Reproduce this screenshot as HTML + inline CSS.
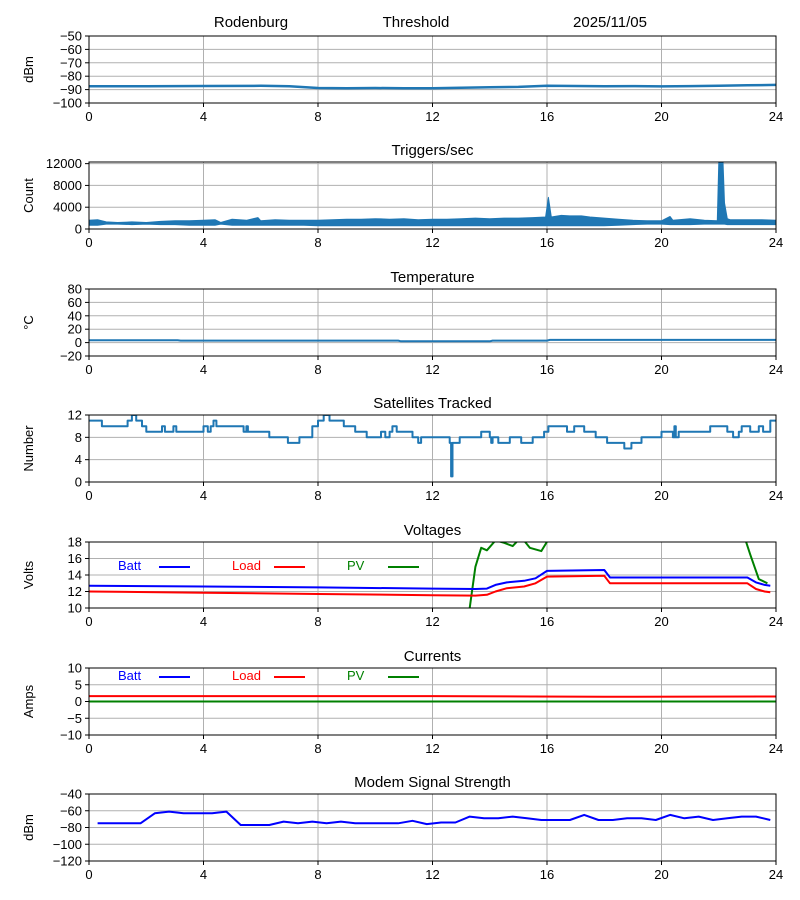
<!DOCTYPE html>
<html><head><meta charset="utf-8"><style>
html,body{margin:0;padding:0;background:#fff;}
svg{display:block;font-family:"Liberation Sans","DejaVu Sans",sans-serif;}
</style></head><body>
<svg id="fig" width="800" height="900" viewBox="0 0 800 900"></svg>
<script>
// ---- data ----
const xTicks=[0,4,8,12,16,20,24];
const threshHours=[0,2,4,6,7,8,9,10,11,12,13,14,15,16,17,18,19,20,21,22,23,24];
const threshVals=[-87.5,-87.5,-87.3,-87.2,-87.5,-88.8,-89,-88.8,-89,-89,-88.6,-88.3,-88,-87.2,-87.3,-87.5,-87.4,-87.6,-87.4,-87.2,-86.8,-86.5];
const trigHours=[0,0.3,0.6,1,1.5,2,2.5,3,3.5,4,4.4,4.6,5,5.5,5.9,6,6.5,7,7.5,8,8.5,9,9.5,10,10.5,11,11.5,12,12.5,13,13.5,14,14.5,15,15.5,15.95,16.05,16.15,16.5,16.8,17.2,17.5,18,18.5,19,19.5,20,20.3,20.4,21,21.5,21.95,22.0,22.15,22.2,22.3,22.4,23,23.5,24];
const trigHigh=[1600,1700,1300,1200,1300,1200,1400,1500,1500,1600,1700,1200,1800,1600,2100,1500,1700,1600,1600,1600,1700,1800,1800,1900,1800,1900,1700,1800,1800,1900,2000,1900,2000,2000,2100,2200,5800,2200,2500,2400,2400,2200,2000,1800,1600,1500,1500,2300,1600,1900,1600,1500,12300,12300,4800,1900,1700,1700,1700,1600];
const trigLow=[700,700,900,900,800,900,800,800,700,700,700,900,700,700,700,700,700,700,700,600,600,600,600,600,600,600,600,600,600,600,600,600,600,600,600,600,600,600,600,600,600,600,600,700,800,900,900,800,800,800,900,900,900,900,900,800,800,800,800,800];
const tempHours=[0,3.1,3.2,10.8,10.9,14,14.1,16,16.1,24];
const tempVals=[3.5,3.5,3,3,2,2,3,3,4,4];
const satHours=[0,0.45,1.35,1.5,1.65,1.85,2.0,2.55,2.65,2.95,3.05,4.0,4.15,4.25,4.35,4.45,5.4,5.5,5.55,6.3,6.95,7.35,7.8,8.0,8.2,8.4,8.9,9.3,9.7,10.2,10.35,10.5,10.6,10.75,11.3,11.5,11.6,12.6,12.65,12.7,12.95,13.7,14.0,14.05,14.1,14.3,14.7,15.1,15.5,15.9,16.05,16.7,16.95,17.3,17.7,18.1,18.7,18.95,19.3,20.0,20.4,20.45,20.5,20.6,21.7,22.3,22.5,22.7,22.8,23.1,23.4,23.55,23.8,24];
const satVals=[11,10,11,12,11,10,9,10,9,10,9,10,9,10,11,10,9,10,9,8,7,8,10,11,12,11,10,9,8,9,8,9,10,9,8,7,8,7,1,7,8,9,8,7,8,7,8,7,8,9,10,9,10,9,8,7,6,7,8,9,8,10,8,9,10,9,8,9,10,9,10,9,11,11];
const vHours=[0,4,8,12,13.5,13.9,14.2,14.6,15.2,15.6,16,18,18.2,21,23,23.3,23.6,23.8];
const battVals=[12.7,12.6,12.5,12.35,12.3,12.35,12.8,13.1,13.3,13.6,14.5,14.6,13.7,13.7,13.7,13.1,12.8,12.7];
const loadVals=[12.0,11.85,11.7,11.55,11.5,11.6,12.0,12.4,12.6,13.0,13.8,13.9,13.0,13.0,13.0,12.3,12.0,11.9];
const pvHours=[13.3,13.5,13.7,13.9,14.2,14.5,14.8,15.1,15.4,15.8,16.1,22.9,23.1,23.4,23.7];
const pvVals=[10,15,17.3,17,18.2,17.9,17.5,18.6,17.3,16.9,18.6,18.6,16.5,13.5,13];
const iHours=[0,12,15.5,18,24];
const iLoad=[1.6,1.6,1.5,1.4,1.5];
const iBatt=[0,0,0,0,0];
const iPV=[0,0,0,0,0];
const modemHours=[0.3,1.8,2.3,2.8,3.3,4.3,4.8,5.3,6.3,6.8,7.3,7.8,8.3,8.8,9.3,10.8,11.3,11.8,12.3,12.8,13.3,13.8,14.3,14.8,15.3,15.8,16.8,17.3,17.8,18.3,18.8,19.3,19.8,20.3,20.8,21.3,21.8,22.3,22.8,23.3,23.8];
const modemVals=[-75,-75,-63,-61,-63,-63,-61,-77,-77,-73,-75,-73,-75,-73,-75,-75,-72,-76,-74,-74,-67,-69,-69,-67,-69,-71,-71,-65,-71,-71,-69,-69,-71,-65,-69,-67,-71,-69,-67,-67,-71];

const NS='http://www.w3.org/2000/svg';
const svg=document.getElementById('fig');
const X0=89,X1=776;
function sx(h){return X0+(h/24)*(X1-X0);}
function fmt(v){return v<0?'\u2212'+Math.abs(v):String(v);}
function mk(tag,attrs,parent,text){const e=document.createElementNS(NS,tag);for(const k in attrs)e.setAttribute(k,attrs[k]);if(text!==undefined)e.textContent=text;(parent||svg).appendChild(e);return e;}

function panel(name,top,bot,ymin,ymax,yTicks,title,ylabel){
  const g=mk('g',{});
  
  
  const sy=v=>bot-(v-ymin)/(ymax-ymin)*(bot-top);
  xTicks.forEach(t=>{const l=mk('line',{x1:sx(t),x2:sx(t),y1:top,y2:bot,stroke:'#b0b0b0','stroke-width':1},g);
    });
  yTicks.forEach(t=>{const l=mk('line',{x1:X0,x2:X1,y1:sy(t),y2:sy(t),stroke:'#b0b0b0','stroke-width':1},g);
    });
  const clipId='c'+name;
  const cp=mk('clipPath',{id:clipId},g);mk('rect',{x:X0,y:top,width:X1-X0,height:bot-top},cp);
  const plot=mk('g',{'clip-path':'url(#'+clipId+')'},g);
  xTicks.forEach(t=>{mk('line',{x1:sx(t),x2:sx(t),y1:bot,y2:bot+4,stroke:'#000'},g);
    const tx=mk('text',{x:sx(t),y:bot+18,'text-anchor':'middle','font-size':13},g,String(t));
    });
  yTicks.forEach(t=>{mk('line',{x1:X0-4,x2:X0,y1:sy(t),y2:sy(t),stroke:'#000'},g);
    const tx=mk('text',{x:X0-7,y:sy(t)+4.5,'text-anchor':'end','font-size':13},g,fmt(t));
    });
  const fr=mk('rect',{x:X0,y:top,width:X1-X0,height:bot-top,fill:'none',stroke:'#000','stroke-width':1},g);
  
  if(title){const tt=mk('text',{x:(X0+X1)/2,y:top-7,'text-anchor':'middle','font-size':15},g,title);
    }
  const cy=(top+bot)/2;
  const yl=mk('text',{x:0,y:0,transform:'translate(33,'+cy+') rotate(-90)','text-anchor':'middle','font-size':13},g,ylabel);
  
  return {g,plot,sy};
}
function line(p,hs,vs,color,w,nm){
  const pts=hs.map((h,i)=>sx(h).toFixed(1)+','+p.sy(vs[i]).toFixed(1)).join(' ');
  const l=mk('polyline',{points:pts,fill:'none',stroke:color,'stroke-width':w,'stroke-linejoin':'round'},p.plot);
  
  return l;
}
function stepline(p,hs,vs,color,w,nm){
  const H=[],V=[];
  hs.forEach((h,i)=>{if(i>0){H.push(h);V.push(vs[i-1]);}H.push(h);V.push(vs[i]);});
  return line(p,H,V,color,w,nm);
}
function legend(p,y){
  const items=[['Batt','#0000ff',118,159],['Load','#ff0000',232,274],['PV','#008000',347,388]];
  items.forEach(it=>{
    const t=mk('text',{x:it[2],y:y+5,'font-size':13,fill:it[1]},p.g,it[0]);
    
    const l=mk('line',{x1:it[3],x2:it[3]+31,y1:y+2,y2:y+2,stroke:it[1],'stroke-width':2},p.g);
    
  });
}
const C='#1f77b4';

[['Rodenburg',251],['Threshold',416],['2025/11/05',610]].forEach(h=>{
  const t=mk('text',{x:h[1],y:27,'text-anchor':'middle','font-size':15},svg,h[0]);
  
});
// 1 threshold
let p=panel('threshold',36,103,-100,-50,[-100,-90,-80,-70,-60,-50],null,'dBm');
line(p,threshHours,threshVals,C,2.5,'threshold-line');
// 2 triggers: envelope band
p=panel('triggers',162,229,0,12300,[0,4000,8000,12000],'Triggers/sec','Count');
{
 const up=trigHours.map((h,i)=>sx(h).toFixed(1)+','+p.sy(trigHigh[i]).toFixed(1));
 const dn=trigHours.map((h,i)=>sx(h).toFixed(1)+','+p.sy(trigLow[i]).toFixed(1)).reverse();
 const band=mk('polygon',{points:up.concat(dn).join(' '),fill:C,stroke:C,'stroke-width':1,'stroke-linejoin':'round'},p.plot);
 
 
}
// 3 temperature
p=panel('temperature',289,356,-20,80,[-20,0,20,40,60,80],'Temperature','°C');
line(p,tempHours,tempVals,C,2,'temperature-line');
// 4 satellites
p=panel('satellites',415,482,0,12,[0,4,8,12],'Satellites Tracked','Number');
stepline(p,satHours,satVals,C,2,'satellites-line');
// 5 voltages
p=panel('voltages',542,608,10,18,[10,12,14,16,18],'Voltages','Volts');
line(p,pvHours,pvVals,'#008000',2,'pv-voltage-line');
line(p,vHours,battVals,'#0000ff',2,'batt-voltage-line');
line(p,vHours,loadVals,'#ff0000',2,'load-voltage-line');
legend(p,565);
// 6 currents
p=panel('currents',668,735,-10,10,[-10,-5,0,5,10],'Currents','Amps');
line(p,iHours,iBatt,'#0000ff',2,'batt-current-line');
line(p,iHours,iPV,'#008000',2,'pv-current-line');
line(p,iHours,iLoad,'#ff0000',2,'load-current-line');
legend(p,675);
// 7 modem
p=panel('modem',794,861,-120,-40,[-120,-100,-80,-60,-40],'Modem Signal Strength','dBm');
line(p,modemHours,modemVals,'#0000ff',2,'modem-signal-line');
</script>
</body></html>
